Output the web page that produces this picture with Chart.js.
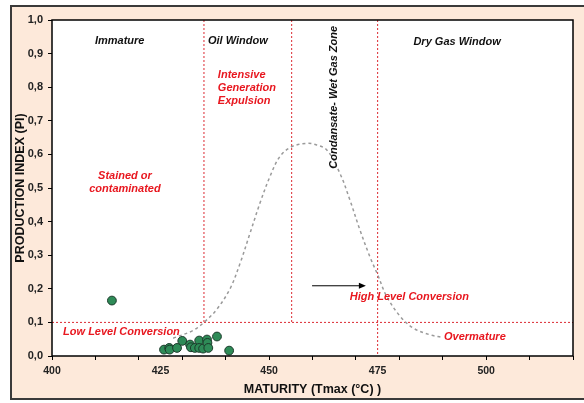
<!DOCTYPE html>
<html>
<head>
<meta charset="utf-8">
<script src="https://cdn.jsdelivr.net/npm/chart.js@4"></script>
<style>
  html, body { margin: 0; padding: 0; background: #fff; }
</style>
</head>
<body>
<canvas id="piChart" width="584" height="403"></canvas>
<script>
// samples: Tmax (°C) and production index
const tmax = [413.8, 425.8, 427.0, 427.1, 428.8, 430.0, 431.8, 432.0, 432.9, 433.9, 433.9, 434.8, 435.7, 435.8, 436.0, 438.0, 440.8];
const pi   = [0.165, 0.019, 0.024, 0.019, 0.024, 0.045, 0.034, 0.026, 0.024, 0.046, 0.024, 0.022, 0.049, 0.039, 0.024, 0.058, 0.016];

// generation curve
const curveTmax = [427.9, 432.5, 435.0, 437.9, 441.0, 443.3, 445.6, 447.9, 450.2, 452.5, 455.2, 458.7, 460.2, 463.3, 466.3, 468.6, 470.9, 473.2, 475.0, 477.1, 480.2, 483.2, 487.1, 489.8];
const curvePi   = [0.053, 0.076, 0.100, 0.138, 0.200, 0.275, 0.365, 0.455, 0.534, 0.594, 0.623, 0.633, 0.631, 0.613, 0.544, 0.465, 0.376, 0.296, 0.242, 0.177, 0.118, 0.083, 0.063, 0.056];

// zone boundaries (Tmax) and where each dotted line stops
const zoneEdges = [435, 455.2, 475];
const zoneFloor = [0.1, 0.1, 0];
const conversionLevel = 0.1;

const xTicks = [400, 425, 450, 475, 500];
const yTicks = [0, 0.1, 0.2, 0.3, 0.4, 0.5, 0.6, 0.7, 0.8, 0.9, 1.0];

const RED = '#e8171f';
const notes = [
  { lines: ['Immature'], x: 415.6, y: 0.938, color: '#111', align: 'center' },
  { lines: ['Oil Window'], x: 442.8, y: 0.938, color: '#111', align: 'center' },
  { lines: ['Dry Gas Window'], x: 493.3, y: 0.935, color: '#111', align: 'center' },
  { lines: ['Intensive', 'Generation', 'Expulsion'], x: 438.2, y: 0.836, color: RED, align: 'left' },
  { lines: ['Stained or', 'contaminated'], x: 416.8, y: 0.536, color: RED, align: 'center' },
  { lines: ['High Level Conversion'], x: 482.3, y: 0.177, color: RED, align: 'center' },
  { lines: ['Low Level Conversion'], x: 416.0, y: 0.072, color: RED, align: 'center' },
  { lines: ['Overmature'], x: 497.4, y: 0.056, color: RED, align: 'center' }
];
const zoneLabel = { text: 'Condansate- Wet Gas Zone', x: 465.0, y: 0.77 };
const arrowFrom = [459.9, 0.209];
const arrowTo = [472.3, 0.209];

Chart.defaults.font.family = '"Liberation Sans", Arial, sans-serif';

const edgeSets = zoneEdges.map((x, i) => ({
  data: [{ x: x, y: 1 }, { x: x, y: zoneFloor[i] }],
  showLine: true,
  borderColor: '#dc2b32',
  borderWidth: 1,
  borderDash: [2, 2],
  pointRadius: 0,
  order: 3
}));

const levelSet = {
  data: [{ x: 400, y: conversionLevel }, { x: 520, y: conversionLevel }],
  showLine: true,
  borderColor: '#dc2b32',
  borderWidth: 1,
  borderDash: [2, 2],
  pointRadius: 0,
  order: 3
};

const curveSet = {
  data: curveTmax.map((x, i) => ({ x: x, y: curvePi[i] })),
  showLine: true,
  borderColor: '#9a9a9a',
  borderWidth: 1.5,
  borderDash: [3, 3],
  tension: 0.35,
  pointRadius: 0,
  order: 2
};

const sampleSet = {
  data: tmax.map((x, i) => ({ x: x, y: pi[i] })),
  backgroundColor: '#2e8b57',
  borderColor: '#1b3a2a',
  borderWidth: 1,
  pointRadius: 4.4,
  order: 0
};

// peach frame + white plot box
const framePlugin = {
  id: 'frame',
  beforeDraw(chart) {
    const { ctx, chartArea: a } = chart;
    ctx.save();
    ctx.fillStyle = '#fff';
    ctx.fillRect(0, 0, chart.width, chart.height);
    ctx.fillStyle = '#fde9da';
    ctx.fillRect(11, 6, chart.width, 393);
    ctx.strokeStyle = '#3a3a3a';
    ctx.lineWidth = 2;
    ctx.strokeRect(11, 6, chart.width + 10, 393);
    ctx.fillStyle = '#fff';
    ctx.fillRect(a.left, a.top, a.right - a.left, a.bottom - a.top);
    ctx.restore();
  },
  afterDraw(chart) {
    const { ctx, chartArea: a } = chart;
    ctx.save();
    ctx.strokeStyle = '#000';
    ctx.lineWidth = 1.5;
    ctx.strokeRect(a.left, a.top, a.right - a.left, a.bottom - a.top);
    ctx.restore();
  }
};

// zone names, comments and the conversion arrow
const notesPlugin = {
  id: 'notes',
  afterDatasetsDraw(chart) {
    const { ctx, scales: { x, y } } = chart;
    ctx.save();
    ctx.font = 'italic bold 11px "Liberation Sans", Arial, sans-serif';
    ctx.textBaseline = 'middle';
    notes.forEach(n => {
      ctx.fillStyle = n.color;
      ctx.textAlign = n.align;
      const px = x.getPixelForValue(n.x);
      const py = y.getPixelForValue(n.y);
      n.lines.forEach((line, i) => ctx.fillText(line, px, py + i * 13));
    });

    ctx.fillStyle = '#111';
    ctx.textAlign = 'center';
    ctx.translate(x.getPixelForValue(zoneLabel.x), y.getPixelForValue(zoneLabel.y));
    ctx.rotate(-Math.PI / 2);
    ctx.fillText(zoneLabel.text, 0, 0);
    ctx.setTransform(1, 0, 0, 1, 0, 0);

    const x0 = x.getPixelForValue(arrowFrom[0]);
    const x1 = x.getPixelForValue(arrowTo[0]);
    const ay = y.getPixelForValue(arrowFrom[1]);
    ctx.strokeStyle = '#000';
    ctx.lineWidth = 1;
    ctx.beginPath();
    ctx.moveTo(x0, ay);
    ctx.lineTo(x1 - 5, ay);
    ctx.stroke();
    ctx.fillStyle = '#000';
    ctx.beginPath();
    ctx.moveTo(x1, ay);
    ctx.lineTo(x1 - 7, ay - 3);
    ctx.lineTo(x1 - 7, ay + 3);
    ctx.closePath();
    ctx.fill();
    ctx.restore();
  }
};

new Chart(document.getElementById('piChart'), {
  type: 'scatter',
  data: { datasets: [sampleSet, curveSet, levelSet, ...edgeSets] },
  options: {
    responsive: false,
    animation: false,
    layout: { padding: { top: 20, right: 11, bottom: 6, left: 8 } },
    plugins: { legend: { display: false }, tooltip: { enabled: false } },
    scales: {
      x: {
        type: 'linear',
        min: 400,
        max: 520,
        afterFit(scale) { scale.height = 41; },
        border: { display: false },
        grid: {
          drawOnChartArea: false,
          tickLength: 4,
          tickColor: ctx => (ctx.tick && ctx.tick.value % 10 === 0) ? '#000' : 'rgba(0,0,0,0)'
        },
        ticks: {
          stepSize: 5,
          autoSkip: false,
          maxRotation: 0,
          padding: 5,
          color: '#222',
          font: { size: 10.5, weight: 'bold' },
          callback: v => xTicks.includes(v) ? String(v) : ''
        },
        title: {
          display: true,
          text: 'MATURITY (Tmax (°C) )',
          color: '#111',
          font: { size: 12.5, weight: 'bold' },
          padding: { top: 0, bottom: 0 }
        }
      },
      y: {
        min: 0,
        max: 1,
        afterFit(scale) { scale.width = 44; },
        afterBuildTicks(scale) { scale.ticks = yTicks.map(v => ({ value: v })); },
        border: { display: false },
        grid: { drawOnChartArea: false, tickLength: 4, tickColor: '#000' },
        ticks: {
          padding: 5,
          color: '#222',
          font: { size: 11, weight: 'bold' },
          callback: v => v.toFixed(1).replace('.', ',')
        },
        title: {
          display: true,
          text: 'PRODUCTION INDEX (PI)',
          color: '#111',
          font: { size: 12.5, weight: 'bold' },
          padding: { top: 5, bottom: 0 }
        }
      }
    }
  },
  plugins: [framePlugin, notesPlugin]
});
</script>
</body>
</html>
